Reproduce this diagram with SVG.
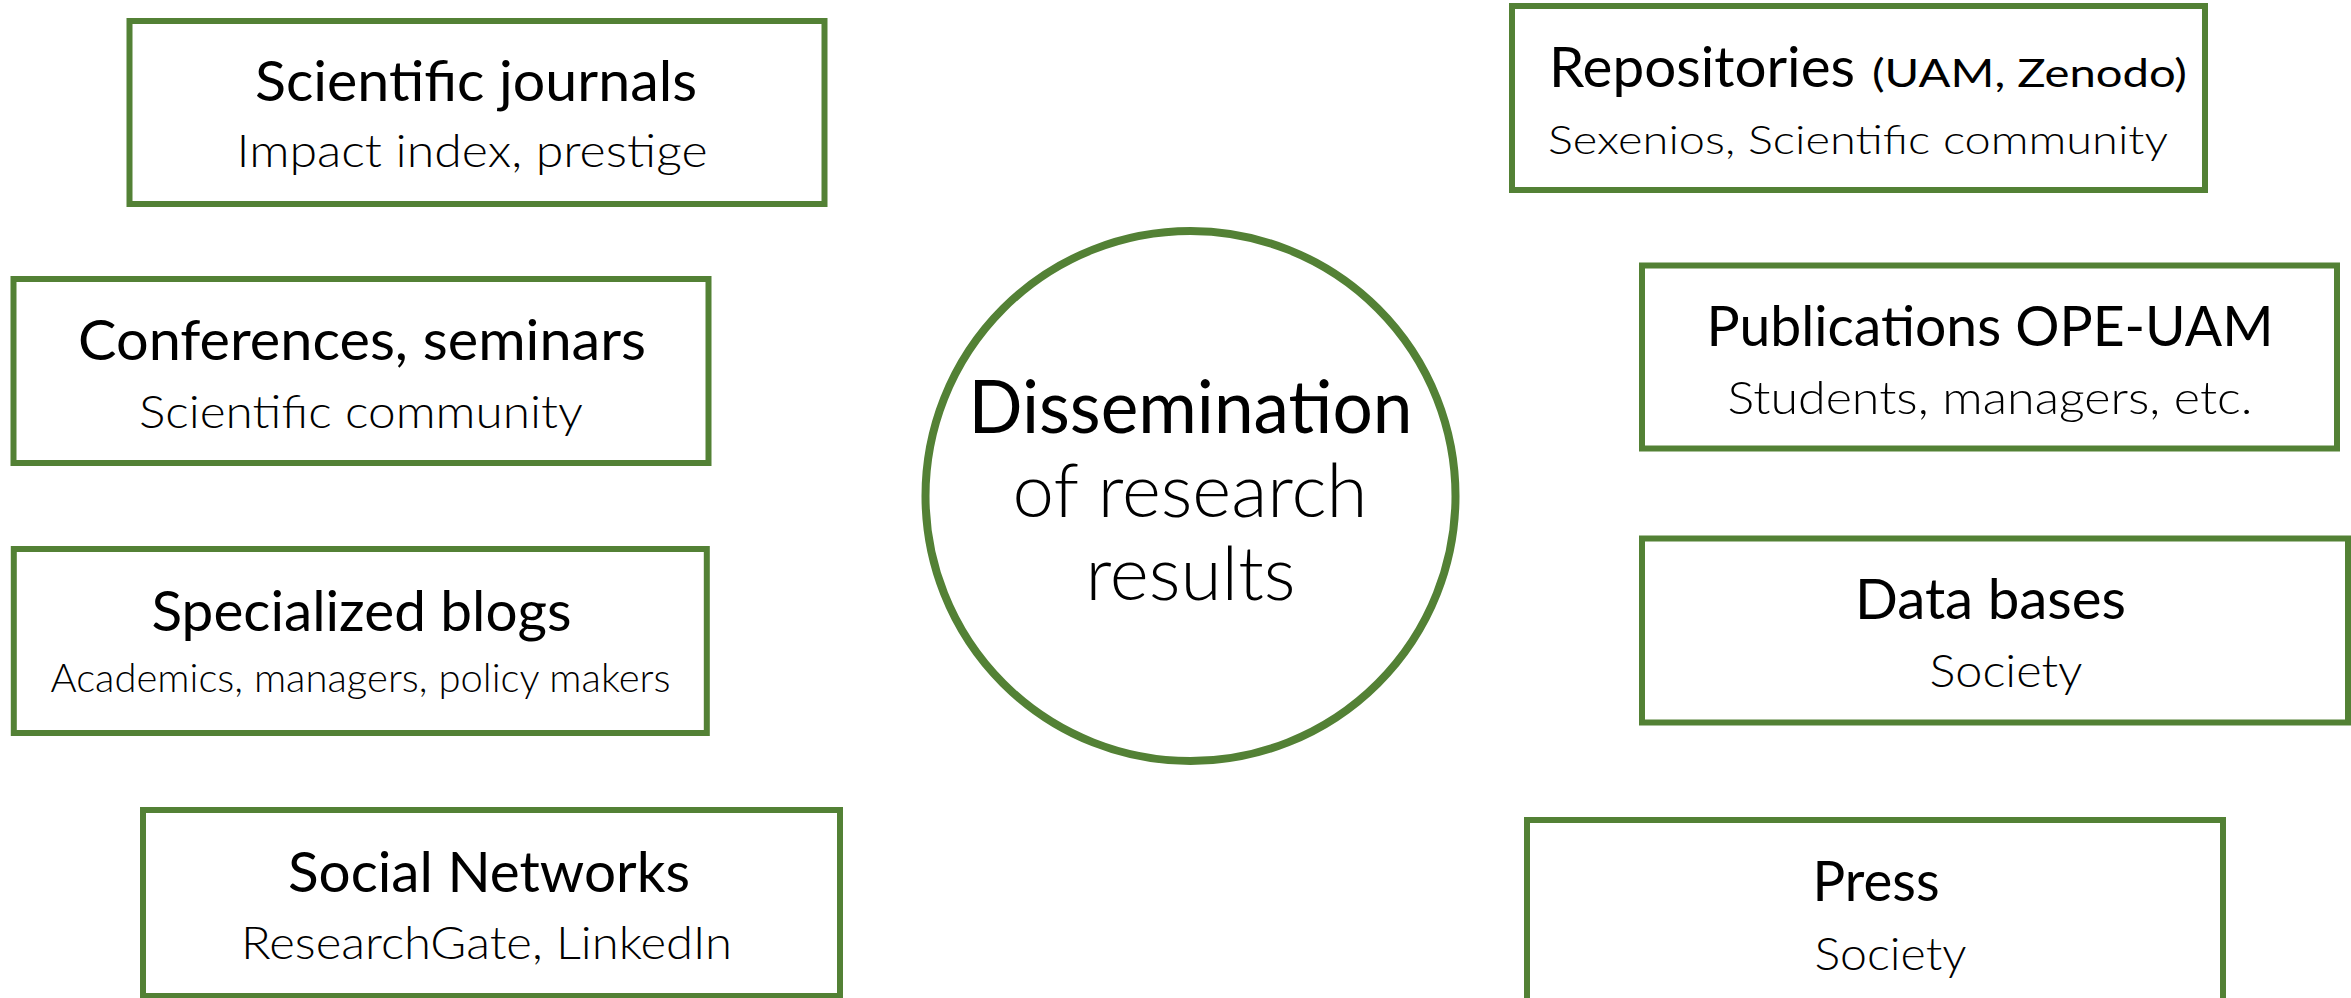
<svg xmlns="http://www.w3.org/2000/svg" width="2351" height="998" viewBox="0 0 2351 998">
  <style>
    .box { fill: #ffffff; stroke: #538135; stroke-width: 6; }
    .ring { fill: #ffffff; stroke: #538135; stroke-width: 8; }
    .t { font-family: Lato, "Open Sans", "Liberation Sans", sans-serif; font-size: 57px; fill: #000000; }
    .s { font-family: Lato, "Open Sans", "Liberation Sans", sans-serif; font-weight: 300; font-size: 46px; fill: #000000; }
    .ss { font-family: Lato, "Open Sans", "Liberation Sans", sans-serif; font-weight: 300; font-size: 39px; fill: #000000; }
    .sm { font-family: Lato, "Open Sans", "Liberation Sans", sans-serif; font-size: 39px; fill: #000000; }
    .m { text-anchor: middle; }
    .c1 { font-family: Lato, "Open Sans", "Liberation Sans", sans-serif; font-size: 74px; fill: #000000; text-anchor: middle; }
    .c2 { font-family: Lato, "Open Sans", "Liberation Sans", sans-serif; font-weight: 300; font-size: 74px; fill: #000000; text-anchor: middle; }
  </style>
  <rect width="2351" height="998" fill="#ffffff"/>
  <g id="connectors"></g>

  <g id="scientific-journals">
    <rect class="box" x="129.5" y="21" width="695" height="183"/>
    <text class="t m" x="476" y="101" textLength="442" lengthAdjust="spacingAndGlyphs">Scientific journals</text>
    <text class="s m" x="472" y="167" textLength="471" lengthAdjust="spacingAndGlyphs">Impact index, prestige</text>
  </g>

  <g id="conferences">
    <rect class="box" x="13.5" y="279" width="695" height="184"/>
    <text class="t m" x="362" y="360" textLength="568" lengthAdjust="spacingAndGlyphs">Conferences, seminars</text>
    <text class="s m" x="361" y="428" textLength="444" lengthAdjust="spacingAndGlyphs">Scientific community</text>
  </g>

  <g id="blogs">
    <rect class="box" x="13.8" y="549" width="693" height="184"/>
    <text class="t m" x="361.5" y="631" textLength="420" lengthAdjust="spacingAndGlyphs">Specialized blogs</text>
    <text class="ss m" x="360.5" y="692" textLength="620" lengthAdjust="spacingAndGlyphs">Academics, managers, policy makers</text>
  </g>

  <g id="social-networks">
    <rect class="box" x="143" y="810" width="697" height="186"/>
    <text class="t m" x="489" y="892" textLength="402" lengthAdjust="spacingAndGlyphs">Social Networks</text>
    <text class="s m" x="486.5" y="959" textLength="491" lengthAdjust="spacingAndGlyphs">ResearchGate, LinkedIn</text>
  </g>

  <g id="dissemination">
    <circle class="ring" cx="1190.5" cy="496" r="265"/>
    <text class="c1" x="1190.5" y="433" textLength="444" lengthAdjust="spacingAndGlyphs">Dissemination</text>
    <text class="c2" x="1190" y="517" textLength="355" lengthAdjust="spacingAndGlyphs">of research</text>
    <text class="c2" x="1190.5" y="600" textLength="210" lengthAdjust="spacingAndGlyphs">results</text>
  </g>

  <g id="repositories">
    <rect class="box" x="1512" y="6" width="693" height="184"/>
    <text class="t" x="1549" y="87" textLength="306" lengthAdjust="spacingAndGlyphs">Repositories</text>
    <text class="sm" x="1872" y="87" textLength="315" lengthAdjust="spacingAndGlyphs">(UAM, Zenodo)</text>
    <text class="ss" x="1548" y="154" textLength="620" lengthAdjust="spacingAndGlyphs">Sexenios, Scientific community</text>
  </g>

  <g id="publications">
    <rect class="box" x="1642" y="265.5" width="695" height="183"/>
    <text class="t m" x="1990" y="346" textLength="567" lengthAdjust="spacingAndGlyphs">Publications OPE-UAM</text>
    <text class="s m" x="1990" y="414" textLength="525" lengthAdjust="spacingAndGlyphs">Students, managers, etc.</text>
  </g>

  <g id="data-bases">
    <rect class="box" x="1642" y="538.5" width="706" height="184"/>
    <text class="t m" x="1990.5" y="619" textLength="271" lengthAdjust="spacingAndGlyphs">Data bases</text>
    <text class="s m" x="2006" y="687" textLength="153" lengthAdjust="spacingAndGlyphs">Society</text>
  </g>

  <g id="press">
    <rect class="box" x="1527" y="820" width="696" height="200"/>
    <text class="t m" x="1876" y="901" textLength="127" lengthAdjust="spacingAndGlyphs">Press</text>
    <text class="s m" x="1890.5" y="970" textLength="152" lengthAdjust="spacingAndGlyphs">Society</text>
  </g>
</svg>
